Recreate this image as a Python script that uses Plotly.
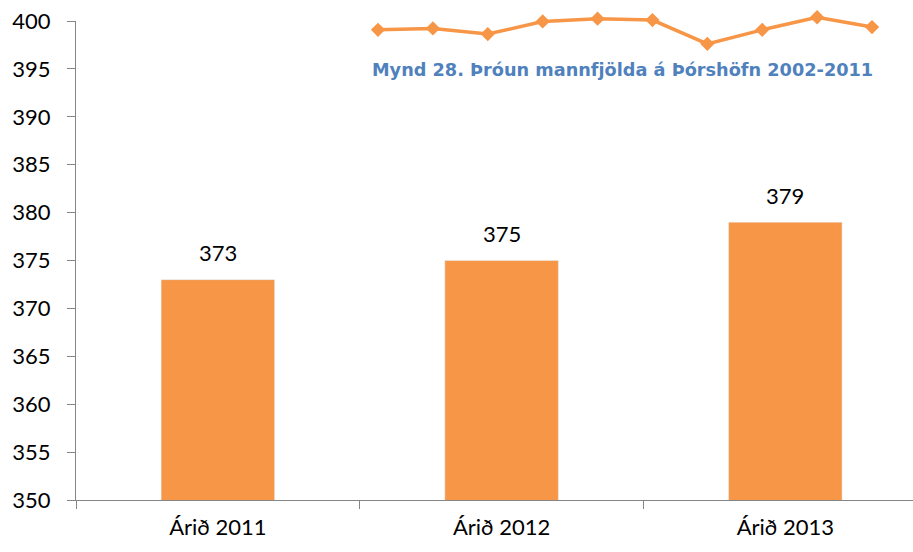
import plotly.graph_objects as go

# Bar chart data
categories = ["Árið 2011", "Árið 2012", "Árið 2013"]
values = [373, 375, 379]
y_ticks = [350, 355, 360, 365, 370, 375, 380, 385, 390, 395, 400]

# Overlay line (Mynd 28, 2002-2011)
line_years = [2002, 2003, 2004, 2005, 2006, 2007, 2008, 2009, 2010, 2011]
line_values = [404, 405, 401, 410, 412, 411, 394, 404, 413, 406]
line_title = "Mynd 28. Þróun mannfjölda á Þórshöfn 2002-2011"

ORANGE = "#F79646"
AXIS = "#868686"
FONT = "Lato"

fig = go.Figure()

fig.add_trace(go.Bar(
    x=categories, y=values, marker_color=ORANGE, width=0.40,
    xaxis="x", yaxis="y", showlegend=False, hoverinfo="skip",
))

for c, v in zip(categories, values):
    fig.add_annotation(x=c, y=v, xref="x", yref="y", text=str(v),
                       showarrow=False, yshift=27,
                       font=dict(family=FONT, size=22, color="#000000"))

fig.add_trace(go.Scatter(
    x=list(range(len(line_years))), y=line_values, mode="lines+markers",
    line=dict(color=ORANGE, width=3.5),
    marker=dict(symbol="diamond", size=11, color=ORANGE),
    xaxis="x2", yaxis="y2", showlegend=False, hoverinfo="skip", cliponaxis=False,
))

fig.add_annotation(x=(622 - 76) / 837, y=(500 - 70) / 500, xref="paper", yref="paper",
                   text="<b>" + line_title + "</b>", showarrow=False,
                   xanchor="center", yanchor="middle",
                   font=dict(family="DejaVu Sans", size=17.7, color="#4F81BD"))

fig.update_layout(
    width=913, height=552,
    margin=dict(l=76, r=0, t=0, b=52),
    paper_bgcolor="white", plot_bgcolor="white",
    bargap=0.6,
    xaxis=dict(
        type="category", range=[-0.5, 2.45], automargin=False,
        showline=True, linecolor=AXIS, linewidth=1.3,
        ticks="outside", tickson="boundaries", ticklen=8, tickcolor=AXIS,
        showgrid=False, zeroline=False, ticklabelstandoff=7,
        tickfont=dict(family=FONT, size=22, color="#000000"),
        anchor="y",
    ),
    yaxis=dict(
        domain=[0, 479 / 500], range=[350, 400], tickvals=y_ticks, automargin=False,
        showline=True, linecolor=AXIS, linewidth=1.3,
        ticks="outside", ticklen=8, tickcolor=AXIS,
        showgrid=False, zeroline=False, ticklabelstandoff=12,
        tickfont=dict(family=FONT, size=22, color="#000000"),
        anchor="x",
    ),
    xaxis2=dict(domain=[(360 - 76) / 837, (890 - 76) / 837], range=[-0.328, 9.328],
                visible=False, anchor="y2", fixedrange=True, automargin=False),
    yaxis2=dict(domain=[(500 - 50) / 500, (500 - 10) / 500], range=[389.6, 418.2],
                visible=False, anchor="x2", fixedrange=True, automargin=False),
)

fig.write_html("out.html", config={"displayModeBar": False},
               post_script="document.body.style.margin='0';document.body.style.overflow='hidden';")
